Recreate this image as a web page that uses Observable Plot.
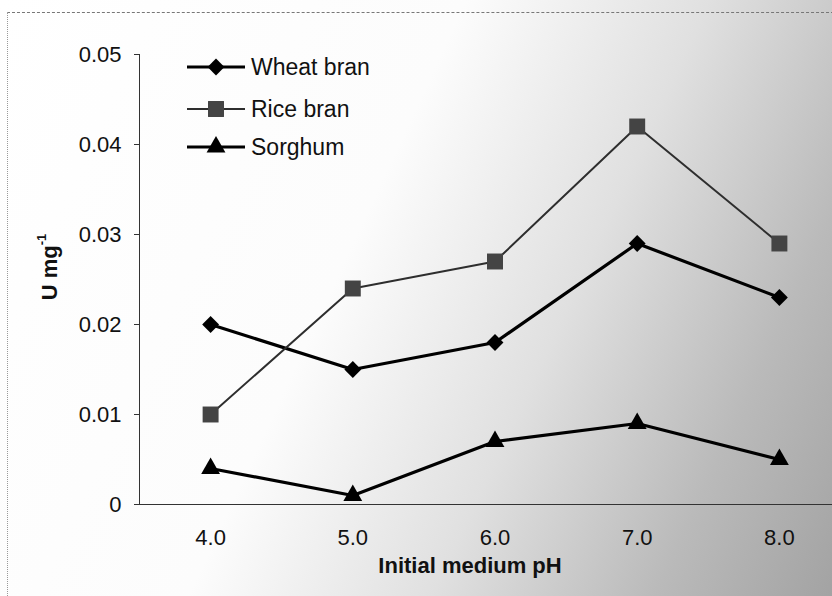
<!DOCTYPE html>
<html>
<head>
<meta charset="utf-8">
<script src="https://cdn.jsdelivr.net/npm/d3@7"></script>
<script src="https://cdn.jsdelivr.net/npm/@observablehq/plot@0.6"></script>
<style>
  html, body { margin: 0; padding: 0; background: #fff; }
  #wrap {
    position: relative; width: 832px; height: 596px; overflow: hidden;
    background: linear-gradient(115deg, #ffffff 0%, #fcfcfc 42%, #e0e0e0 64%, #bababa 84%, #a3a3a3 100%);
    font-family: "Liberation Sans", Arial, sans-serif;
  }
  #border { position: absolute; left: 7px; top: 12px; right: -2px; bottom: -2px;
    border-top: 1px dashed #777; border-left: 1px dotted #999; pointer-events: none; }
  #ylabel { position: absolute; left: 50px; top: 267px; transform: translate(-50%, -50%) rotate(-90deg);
    font-weight: bold; font-size: 22px; white-space: nowrap; color: #111; }
  #ylabel sup { font-size: 13px; position: relative; top: -3px; }
  #legend { position: absolute; left: 0; top: 0; pointer-events: none; }
  #chart svg { position: absolute; left: 0; top: 0; }
</style>
</head>
<body>
<div id="wrap">
  <div id="border"></div>
  <div id="chart"></div>
  <div id="ylabel">U mg<sup>-1</sup></div>
  <svg id="legend" width="832" height="596"></svg>
</div>
<script>
// ---- data ----
const phValues   = [4.0, 5.0, 6.0, 7.0, 8.0];
const wheatBran  = [0.020, 0.015, 0.018, 0.029, 0.023];
const riceBran   = [0.010, 0.024, 0.027, 0.042, 0.029];
const sorghum    = [0.004, 0.001, 0.007, 0.009, 0.005];
const seriesNames = ["Wheat bran", "Rice bran", "Sorghum"];
const yTicks     = [0, 0.01, 0.02, 0.03, 0.04, 0.05];
const xTickLabels = ["4.0", "5.0", "6.0", "7.0", "8.0"];
const xTitle = "Initial medium pH";

const seriesValues = [wheatBran, riceBran, sorghum];
const styles = {
  "Wheat bran": {stroke: "#000", width: 3.2, symbol: "diamond2", r: 7.6, fill: "#000"},
  "Rice bran":  {stroke: "#2e2e2e", width: 2, symbol: "square", r: 9, fill: "#444"},
  "Sorghum":    {stroke: "#000", width: 3.2, symbol: "triangle", r: 7, fill: "#000"}
};
const rows = seriesNames.flatMap((name, i) =>
  phValues.map((ph, j) => ({series: name, ph, value: seriesValues[i][j]})));

const xMin = phValues[0] - 0.5, xMax = phValues[phValues.length - 1] + 0.5;

const marks = [
  Plot.ruleY([0], {stroke: "#333", strokeWidth: 1}),
  Plot.ruleX([xMin], {y1: yTicks[0], y2: yTicks[yTicks.length - 1], stroke: "#333", strokeWidth: 1}),
  Plot.axisY(yTicks, {tickSize: 5, tickPadding: 13, fontSize: 22, stroke: "#333",
    tickFormat: d => d === 0 ? "0" : d.toFixed(2), label: null, fill: "#111"}),
  Plot.axisX(phValues, {tickSize: 0, tickPadding: 25, fontSize: 22, label: null, fill: "#111",
    tickFormat: (d, i) => xTickLabels[i]}),
  Plot.text([xTitle], {frameAnchor: "bottom", dy: 61, dx: -16, fontSize: 22, fontWeight: "bold",
    fill: "#111", lineAnchor: "middle"})
];
for (const name of seriesNames) {
  const s = styles[name];
  const data = rows.filter(d => d.series === name);
  marks.push(Plot.line(data, {x: "ph", y: "value", stroke: s.stroke, strokeWidth: s.width}));
  marks.push(Plot.dot(data, {x: "ph", y: "value", symbol: s.symbol, r: s.r, fill: s.fill, stroke: "none"}));
}

const chart = Plot.plot({
  width: 832, height: 596,
  marginLeft: 139, marginRight: 0, marginTop: 54, marginBottom: 92,
  style: {background: "transparent", fontFamily: "'Liberation Sans', Arial, sans-serif"},
  x: {domain: [xMin, xMax], range: [139, 850], axis: null},
  y: {domain: [yTicks[0], yTicks[yTicks.length - 1]], axis: null},
  marks
});
document.getElementById("chart").appendChild(chart);

// ---- legend ----
const symMap = {diamond2: d3.symbolDiamond2, square: d3.symbolSquare, triangle: d3.symbolTriangle};
const leg = d3.select("#legend");
const legY = [67, 109, 147];
seriesNames.forEach((name, i) => {
  const s = styles[name];
  const g = leg.append("g").attr("transform", `translate(0,${legY[i]})`);
  g.append("line").attr("x1", 187).attr("x2", 245).attr("y1", 0).attr("y2", 0)
    .attr("stroke", s.stroke).attr("stroke-width", s.width);
  g.append("path").attr("transform", "translate(216,0)")
    .attr("d", d3.symbol(symMap[s.symbol], Math.PI * s.r * s.r)())
    .attr("fill", s.fill);
  g.append("text").attr("x", 251).attr("y", 0).attr("dy", "0.35em")
    .attr("font-size", 23).attr("fill", "#111")
    .attr("font-family", "'Liberation Sans', Arial, sans-serif").text(name);
});
</script>
</body>
</html>
